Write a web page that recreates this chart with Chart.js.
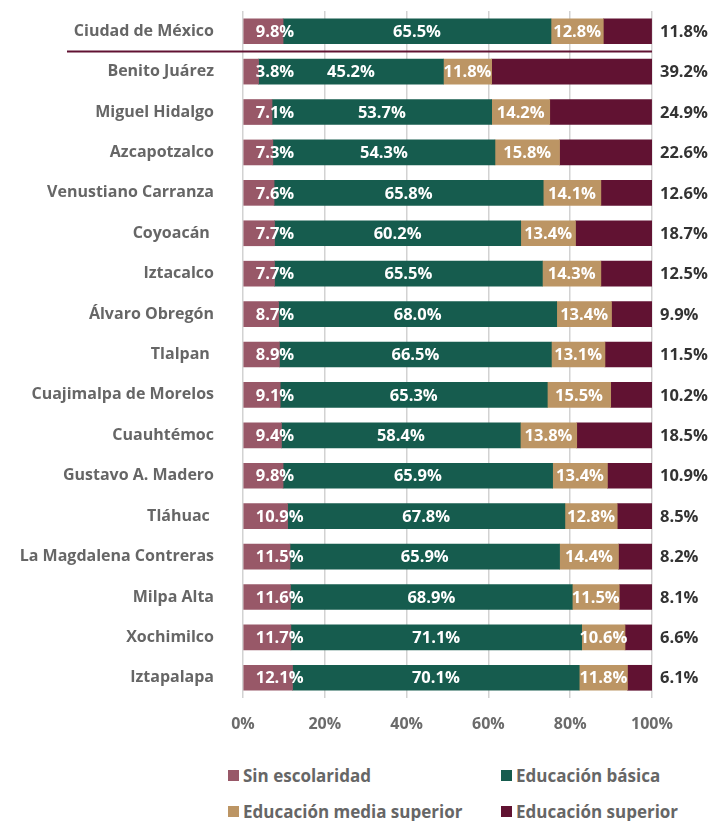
<!DOCTYPE html>
<html lang="es">
<head>
<meta charset="utf-8">
<script src="https://cdn.jsdelivr.net/npm/chart.js@4/dist/chart.umd.min.js"></script>
<style>
  html, body { margin: 0; padding: 0; background: #fff; }
  .wrap { position: relative; width: 716px; height: 821px; }
  .chart-box { position: absolute; left: 0; top: 0; width: 716px; height: 745px; }
  .lg { position: absolute; display: flex; align-items: center; font: 700 17px "Open Sans", sans-serif; color: #666; white-space: nowrap; }
  .lg i { display: inline-block; width: 11px; height: 11px; margin-right: 4px; }
</style>
</head>
<body>
<div class="wrap">
  <div class="chart-box"><canvas id="eduChart"></canvas></div>
  <div class="lg" style="left:228px; top:764px"><i style="background:#985868"></i>Sin escolaridad</div>
  <div class="lg" style="left:501px; top:764px"><i style="background:#165C4E"></i>Educación básica</div>
  <div class="lg" style="left:228px; top:800px"><i style="background:#BC9564"></i>Educación media superior</div>
  <div class="lg" style="left:501px; top:800px"><i style="background:#611232"></i>Educación superior</div>
</div>
<script>
const mauve = "#985868",
  green = "#165C4E",
  tan = "#BC9564",
  wine = "#611232",
  grid = "#D2D2D2",
  labelGray = "#666666";

const alcaldias = [
  "Ciudad de México", "Benito Juárez", "Miguel Hidalgo", "Azcapotzalco",
  "Venustiano Carranza", "Coyoacán ", "Iztacalco", "Álvaro Obregón",
  "Tlalpan ", "Cuajimalpa de Morelos", "Cuauhtémoc", "Gustavo A. Madero",
  "Tláhuac ", "La Magdalena Contreras", "Milpa Alta", "Xochimilco", "Iztapalapa",
];
const sinEscolaridad = [9.8, 3.8, 7.1, 7.3, 7.6, 7.7, 7.7, 8.7, 8.9, 9.1, 9.4, 9.8, 10.9, 11.5, 11.6, 11.7, 12.1];
const basica        = [65.5, 45.2, 53.7, 54.3, 65.8, 60.2, 65.5, 68.0, 66.5, 65.3, 58.4, 65.9, 67.8, 65.9, 68.9, 71.1, 70.1];
const mediaSuperior = [12.8, 11.8, 14.2, 15.8, 14.1, 13.4, 14.3, 13.4, 13.1, 15.5, 13.8, 13.4, 12.8, 14.4, 11.5, 10.6, 11.8];
const superior      = [11.8, 39.2, 24.9, 22.6, 12.6, 18.7, 12.5, 9.9, 11.5, 10.2, 18.5, 10.9, 8.5, 8.2, 8.1, 6.6, 6.1];
const xTicks = [0, 20, 40, 60, 80, 100];

const fmt = (v) => v.toFixed(1) + "%";

// labels on the bars + separator line under the city total
const barLabels = {
  id: "barLabels",
  afterDatasetsDraw(chart) {
    const { ctx, chartArea } = chart;
    ctx.save();
    ctx.font = '700 16.5px "Open Sans", sans-serif';
    ctx.textBaseline = "middle";
    chart.data.datasets.forEach((ds, di) => {
      const meta = chart.getDatasetMeta(di);
      meta.data.forEach((bar, i) => {
        const txt = fmt(ds.data[i]);
        if (di === 0) {
          ctx.fillStyle = "#fff";
          ctx.textAlign = "left";
          ctx.fillText(txt, bar.base + 12, bar.y + 1);
        } else if (di === 3) {
          ctx.fillStyle = "#333";
          ctx.textAlign = "left";
          ctx.fillText(txt, chartArea.right + 8, bar.y + 1);
        } else {
          ctx.fillStyle = "#fff";
          ctx.textAlign = "center";
          ctx.fillText(txt, (bar.x + bar.base) / 2, bar.y + 1);
        }
      });
    });
    const y = chart.scales.y;
    const sepY = (y.getPixelForValue(0) + y.getPixelForValue(1)) / 2;
    ctx.strokeStyle = wine;
    ctx.lineWidth = 2;
    ctx.beginPath();
    ctx.moveTo(67, sepY);
    ctx.lineTo(chartArea.right, sepY);
    ctx.stroke();
    ctx.restore();
  },
};

const mkSet = (label, data, color) => ({
  label,
  data,
  backgroundColor: color,
  borderWidth: 0,
  barThickness: 25,
});

new Chart(document.getElementById("eduChart"), {
  type: "bar",
  data: {
    labels: alcaldias,
    datasets: [
      mkSet("Sin escolaridad", sinEscolaridad, mauve),
      mkSet("Educación básica", basica, green),
      mkSet("Educación media superior", mediaSuperior, tan),
      mkSet("Educación superior", superior, wine),
    ],
  },
  options: {
    indexAxis: "y",
    responsive: true,
    maintainAspectRatio: false,
    animation: false,
    layout: { padding: { top: 11, right: 64, left: 0, bottom: 0 } },
    plugins: {
      legend: { display: false },
      tooltip: { enabled: false },
    },
    scales: {
      x: {
        stacked: true,
        min: 0,
        max: 100,
        afterFit: (s) => { s.height = 47; },
        afterBuildTicks: (s) => { s.ticks = xTicks.map((v) => ({ value: v })); },
        grid: { color: grid, lineWidth: 1.5, drawTicks: false },
        border: { display: false },
        ticks: {
          padding: 17,
          color: "#6b6b6b",
          font: { family: "Open Sans", size: 16, weight: "bold" },
          callback: (v) => v + "%",
        },
      },
      y: {
        stacked: true,
        afterFit: (s) => {
          s.width = 243;
          s.paddingTop = 0;
          s.paddingBottom = 0;
        },
        grid: { display: false, drawTicks: false },
        border: { display: false },
        ticks: {
          padding: 29,
          color: labelGray,
          font: { family: "Open Sans", size: 16, weight: "bold" },
        },
      },
    },
  },
  plugins: [barLabels],
});
</script>
</body>
</html>
